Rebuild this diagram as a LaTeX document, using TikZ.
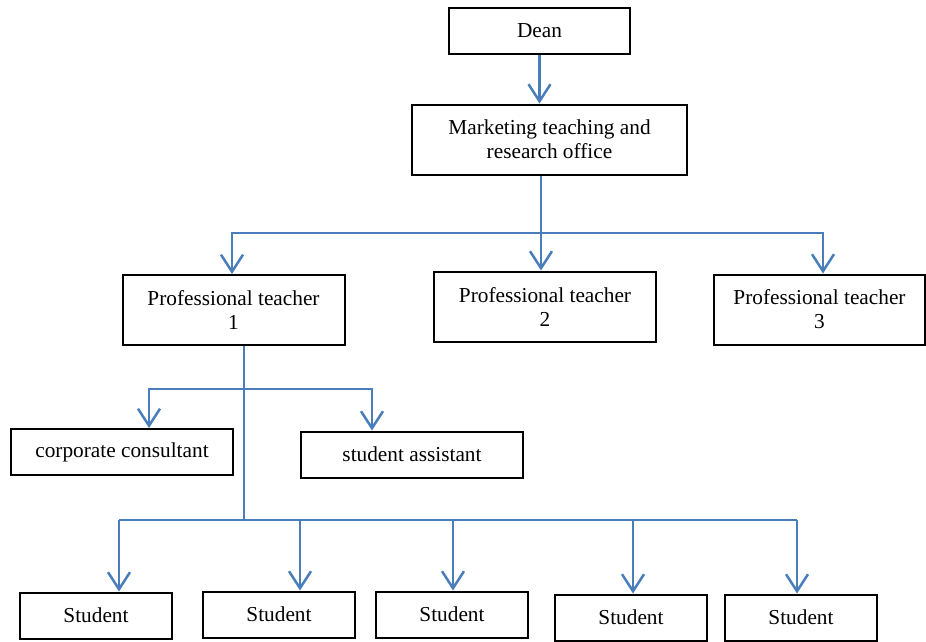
\documentclass[tikz,border=0pt]{standalone}
\usepackage{fontspec}
\setmainfont{Liberation Serif}
\usetikzlibrary{arrows.meta,calc}
\definecolor{linkblue}{RGB}{74,126,187}

\begin{document}
\begin{tikzpicture}[x=1pt,y=-1pt,every node/.style={inner sep=1pt},
  box/.style={draw=black,line width=2pt,minimum width=222pt,minimum height=70pt,
    align=center,font=\fontsize{21.3}{24}\selectfont},
  smallbox/.style={box,minimum height=46pt},
  studentbox/.style={box,minimum width=152pt,minimum height=46pt},
  link/.style={draw=linkblue,line width=2.5pt},
  arr/.style={link,-{Straight Barb[length=17pt,width=22pt]}}]
  \useasboundingbox (0,0) rectangle (926,641);

  % boxes
  \node [smallbox,minimum width=181pt] (dean) at (539.5,31) {Dean};
  \node [box,minimum width=275pt] (office) at (549.5,139.5)
    {Marketing teaching and\\research office};
  \node [box] (pt1) at (233.5,310) {Professional teacher\\1};
  \node [box] (pt2) at (545,306.5) {Professional teacher\\2};
  \node [box,minimum width=211pt] (pt3) at (819.5,309.5) {Professional teacher\\3};
  \node [smallbox] (cc) at (122,452) {corporate consultant};
  \node [smallbox] (sa) at (412,454.5) {student assistant};
  \node [studentbox] (st1) at (96,615.5) {Student};
  \node [studentbox] (st2) at (279,614.5) {Student};
  \node [studentbox] (st3) at (452,614.5) {Student};
  \node [studentbox] (st4) at (631,617.5) {Student};
  \node [studentbox] (st5) at (801,617.5) {Student};

  % dean to office
  \draw [arr] (dean.south) -- (dean.south |- office.north);

  % office to teachers
  \coordinate (hub) at (541,233);
  \coordinate (hubL) at (232,233);
  \coordinate (hubR) at (823,233);
  \draw [link] (hub |- office.south) -- (hub);
  \draw [arr] (hub) -- (hubL) -- (hubL |- pt1.north);
  \draw [arr] (hub) -- (hubR) -- (hubR |- pt3.north);
  \draw [arr] (hub) -- (hub |- pt2.north);

  % teacher 1 to helpers
  \coordinate (trunk) at (244,389);
  \coordinate (base) at (244,521);
  \coordinate (cL) at (149,389);
  \coordinate (cR) at (372,389);
  \draw [link] (trunk |- pt1.south) -- (base);
  \draw [arr] (trunk) -- (cL) -- (cL |- cc.north);
  \draw [arr] (trunk) -- (cR) -- (cR |- sa.north);

  % teacher 1 to students
  \draw [link] (119,520) coordinate (sL) -- (797,520) coordinate (sR);
  \foreach \n/\x in {1/119,2/300,3/453,4/633,5/797} {
    \coordinate (s\n) at (\x,520);
    \draw [arr] (s\n) -- (s\n |- st\n.north);
  }

\end{tikzpicture}
\end{document}
